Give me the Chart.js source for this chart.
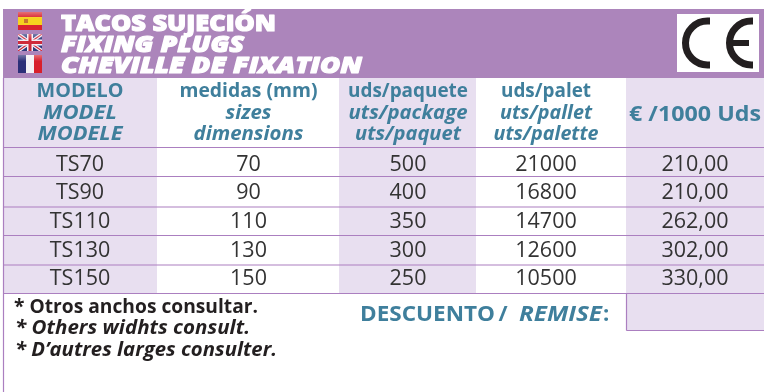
<!DOCTYPE html>
<html>
<head>
<meta charset="utf-8">
<style>
  html, body { margin: 0; padding: 0; background: #fff; }
  canvas { display: block; }
</style>
<script src="https://cdn.jsdelivr.net/npm/chart.js@4"></script>
</head>
<body>
<canvas id="tableChart" width="764" height="392"></canvas>
<script>
// table content
const titles = ['TACOS SUJECIÓN', 'FIXING PLUGS', 'CHEVILLE DE FIXATION'];
const models = ['TS70', 'TS90', 'TS110', 'TS130', 'TS150'];
const sizes = [70, 90, 110, 130, 150];
const unitsPackage = [500, 400, 350, 300, 250];
const unitsPallet = [21000, 16800, 14700, 12600, 10500];
const prices = [210, 210, 262, 302, 330];
const headers = [
    ['MODELO', 'MODEL', 'MODELE'],
    ['medidas (mm)', 'sizes', 'dimensions'],
    ['uds/paquete', 'uts/package', 'uts/paquet'],
    ['uds/palet', 'uts/pallet', 'uts/palette'],
    ['€ /1000 Uds'],
];
const notes = ['* Otros anchos consultar.', '* Others widhts consult.', '* D’autres larges consulter.'];

// layout, in scale units (same as pixels here)
const colEdges = [3, 157, 339, 476, 626, 764];
const colCenters = [80, 248.5, 408, 546, 695];
const rowLines = [147.5, 176.5, 207, 235.5, 265, 293.5];
const rowBaselines = [171, 199, 228, 257, 285];
const headerBaselines = [97, 119, 140];
const headerWidths = [[87, 74, 85], [138, 46, 110], [120, 119, 106], [90, 92, 105], [132]];
const noteBaselines = [313, 334, 356];
const noteWidths = [244, 235, 262];
const PURPLE = '#ac85bb', LILAC = '#e8dff0', LINE = '#ab7fc0', TEAL = '#3f7f9c', DARK = '#333333';
const FAMILY = '"Open Sans", sans-serif';

function put(ctx, str, x, y, font, color, align, width) {
    ctx.font = font;
    ctx.fillStyle = color;
    ctx.textBaseline = 'alphabetic';
    ctx.textAlign = align || 'center';
    if (width) {
        // squeeze or stretch to the measured width
        const k = width / ctx.measureText(str).width;
        ctx.save();
        ctx.translate(x, y);
        ctx.scale(k, 1);
        ctx.fillText(str, 0, 0);
        ctx.restore();
    } else {
        ctx.fillText(str, x, y);
    }
}

const tablePlugin = {
    id: 'table',
    beforeDatasetsDraw(chart) {
        const { ctx, scales: { x, y } } = chart;
        const px = v => x.getPixelForValue(v);
        const py = v => y.getPixelForValue(v);
        const rect = (x0, y0, x1, y1, c) => {
            ctx.fillStyle = c;
            ctx.fillRect(px(x0), py(y0), px(x1) - px(x0), py(y1) - py(y0));
        };
        const line = (x0, y0, x1, y1) => {
            ctx.strokeStyle = LINE;
            ctx.lineWidth = 1.2;
            ctx.beginPath();
            ctx.moveTo(px(x0), py(y0));
            ctx.lineTo(px(x1), py(y1));
            ctx.stroke();
        };
        // banner
        rect(3, 9, 764, 78, PURPLE);
        // shaded columns
        [0, 2, 4].forEach(i => rect(colEdges[i], 78, colEdges[i + 1], rowLines[5], LILAC));
        rect(626, 293.5, 764, 330.5, LILAC);
        rowLines.forEach(v => line(3, v, 764, v));
        line(3.5, 78, 3.5, 392);
        line(626.5, 293.5, 626.5, 330.5);
        line(626.5, 330.5, 764, 330.5);
        drawFlags(ctx, px, py);
        drawCE(ctx, px, py, rect);
    },
    afterDatasetsDraw(chart) {
        const { ctx } = chart;
        // banner titles, bolder than the font's heaviest weight
        const ty = [31, 52, 73];
        const tw = [215, 183, 301];
        titles.forEach((t, i) => {
            const font = (i ? 'italic ' : '') + '800 22px ' + FAMILY;
            ctx.save();
            ctx.strokeStyle = '#fff';
            ctx.lineWidth = 1.1;
            ctx.lineJoin = 'round';
            ctx.font = font;
            const k = tw[i] / ctx.measureText(t).width;
            ctx.translate(61, ty[i]);
            ctx.scale(k, 1);
            ctx.textAlign = 'left';
            ctx.strokeText(t, 0, 0);
            ctx.fillStyle = '#fff';
            ctx.fillText(t, 0, 0);
            ctx.restore();
        });
        // column headers
        headers.forEach((lines, c) => {
            lines.forEach((t, i) => {
                const size = lines.length === 1 ? 21 : 20;
                const font = (i ? 'italic ' : '') + 'bold ' + size + 'px ' + FAMILY;
                const yy = lines.length === 1 ? 121 : headerBaselines[i];
                put(ctx, t, colCenters[c], yy, font, TEAL, 'center', headerWidths[c][i]);
            });
        });
        // body cells, one scatter point per cell
        chart.data.datasets.forEach((ds, d) => {
            chart.getDatasetMeta(d).data.forEach((pt, i) => {
                put(ctx, ds.cellText[i], pt.x, pt.y, '21.5px ' + FAMILY, DARK);
            });
        });
        // notes
        notes.forEach((t, i) => {
            const font = (i ? 'italic ' : '') + 'bold 19px ' + FAMILY;
            put(ctx, t, i ? 15 : 14, noteBaselines[i], font, '#231f20', 'left', noteWidths[i]);
        });
        // discount label
        put(ctx, 'DESCUENTO', 360, 321, 'bold 22px ' + FAMILY, TEAL, 'left', 135);
        put(ctx, '/', 503, 321, 'bold 22px ' + FAMILY, TEAL, 'center');
        put(ctx, 'REMISE', 519, 321, 'italic bold 22px ' + FAMILY, TEAL, 'left', 83);
        put(ctx, ':', 603, 321, 'bold 22px ' + FAMILY, TEAL, 'left');
    },
};

function drawFlags(ctx, px, py) {
    const band = (x0, y0, x1, y1, c) => {
        ctx.fillStyle = c;
        ctx.fillRect(px(x0), py(y0), px(x1) - px(x0), py(y1) - py(y0));
    };
    // Spain
    band(18, 12, 42, 18, '#d9232e');
    band(18, 17, 42, 25, '#f6d31f');
    band(18, 25, 42, 30, '#d9232e');
    band(24, 19, 28, 23, '#c9762e');
    // UK
    band(18, 34, 42, 51, '#2f3a7d');
    ctx.save();
    ctx.beginPath();
    ctx.rect(px(18), py(34), 24, 17);
    ctx.clip();
    ctx.strokeStyle = '#f3eef5';
    ctx.lineWidth = 3.5;
    ctx.beginPath();
    ctx.moveTo(px(18), py(34));
    ctx.lineTo(px(42), py(51));
    ctx.moveTo(px(42), py(34));
    ctx.lineTo(px(18), py(51));
    ctx.stroke();
    ctx.strokeStyle = '#cf2a3a';
    ctx.lineWidth = 1.2;
    ctx.stroke();
    ctx.restore();
    band(27, 34, 33, 51, '#f3eef5');
    band(18, 39.5, 42, 45.5, '#f3eef5');
    band(28.5, 34, 31.5, 51, '#cf2a3a');
    band(18, 41, 42, 44, '#cf2a3a');
    // France
    band(18, 55, 26, 73, '#2c2f78');
    band(26, 55, 34, 73, '#f4f1f5');
    band(34, 55, 42, 73, '#d8202c');
    // soft shine on top of each flag
    [[12, 30], [34, 51], [55, 73]].forEach(([a, b]) => {
        const g = ctx.createLinearGradient(0, py(a), 0, py(b));
        g.addColorStop(0, 'rgba(255,255,255,0.35)');
        g.addColorStop(0.35, 'rgba(255,255,255,0)');
        ctx.fillStyle = g;
        ctx.fillRect(px(18), py(a), 24, py(b) - py(a));
    });
}

function drawCE(ctx, px, py, rect) {
    rect(677, 14, 759, 72, '#fff');
    ctx.strokeStyle = '#231f20';
    ctx.lineWidth = 7;
    ctx.lineCap = 'butt';
    // C
    ctx.beginPath();
    ctx.moveTo(px(710), py(65));
    ctx.lineTo(px(707.5), py(65));
    ctx.arc(px(707.5), py(43), 22, Math.PI * 0.5, Math.PI * 1.5);
    ctx.lineTo(px(710), py(21));
    ctx.stroke();
    // E
    ctx.beginPath();
    ctx.moveTo(px(753), py(65));
    ctx.lineTo(px(751.5), py(65));
    ctx.arc(px(751.5), py(43), 22, Math.PI * 0.5, Math.PI * 1.5);
    ctx.lineTo(px(753), py(21));
    ctx.stroke();
    ctx.lineWidth = 6;
    ctx.beginPath();
    ctx.moveTo(px(730), py(43));
    ctx.lineTo(px(749), py(43));
    ctx.stroke();
}

const euro = v => v.toFixed(2).replace('.', ',');
const columns = [models, sizes, unitsPackage, unitsPallet, prices.map(euro)];

new Chart(document.getElementById('tableChart'), {
    type: 'scatter',
    data: {
        datasets: columns.map((col, c) => ({
            label: headers[c][0],
            cellText: col.map(String),
            data: col.map((_, r) => ({ x: colCenters[c], y: rowBaselines[r] })),
            pointRadius: 0,
        })),
    },
    options: {
        responsive: false,
        animation: false,
        layout: { padding: 0 },
        plugins: { legend: { display: false }, tooltip: { enabled: false } },
        scales: {
            x: { type: 'linear', display: false, min: 0, max: 764 },
            y: { type: 'linear', display: false, min: 0, max: 392, reverse: true },
        },
    },
    plugins: [tablePlugin],
});
</script>
</body>
</html>
